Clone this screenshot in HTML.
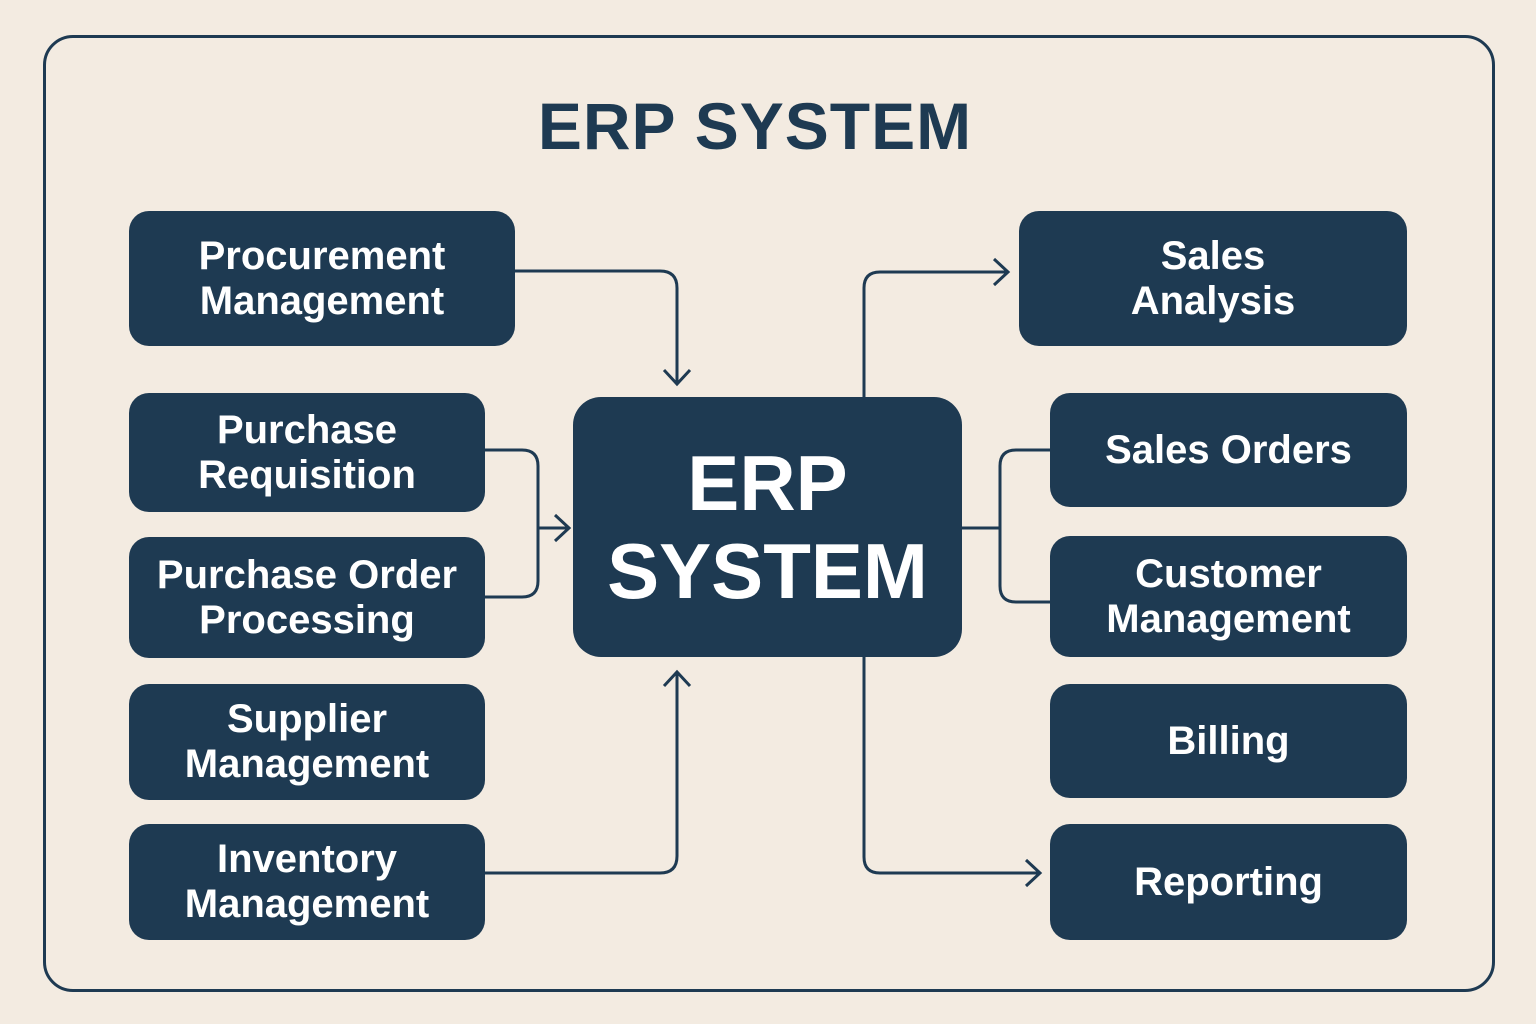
<!DOCTYPE html>
<html><head><meta charset="utf-8"><style>
body{margin:0;width:1536px;height:1024px;background:#f3ebe1;position:relative;overflow:hidden;font-family:"Liberation Sans",sans-serif}
.frame{position:absolute;left:43px;top:35px;width:1446px;height:951px;border:3px solid #1e3a52;border-radius:30px}
.t{position:absolute;left:0;width:1510px;top:88px;text-align:center;font-size:66px;font-weight:bold;color:#1e3a52;letter-spacing:1px}
.b{position:absolute;background:#1e3a52;border-radius:20px;color:#fff;display:flex;align-items:center;justify-content:center;text-align:center;font-size:40px;font-weight:bold;line-height:45px}
.c{font-size:78px;line-height:88px;border-radius:28px}
svg{position:absolute;left:0;top:0}
</style></head><body>
<div class="frame"></div>
<div class="t">ERP SYSTEM</div>
<svg width="1536" height="1024" fill="none" stroke="#1e3a52" stroke-width="3">
<path d="M515 271H660Q677 271 677 288V383"/><path d="M664 370L677 384L690 370"/>
<path d="M485 450H522Q538 450 538 466V581Q538 597 522 597H485"/><path d="M538 528H568"/><path d="M555 515L569 528L555 541"/>
<path d="M485 873H660Q677 873 677 856V672"/><path d="M664 686L677 672L690 686"/>
<path d="M864 397V288Q864 272 880 272H1008"/><path d="M994 259L1008 272L994 285"/>
<path d="M962 528H1000"/><path d="M1050 450H1016Q1000 450 1000 466V586Q1000 602 1016 602H1050"/>
<path d="M864 657V857Q864 873 880 873H1040"/><path d="M1026 860L1040 873L1026 886"/>
</svg>
<div class="b" style="left:129px;top:211px;width:386px;height:135px">Procurement<br>Management</div>
<div class="b" style="left:129px;top:393px;width:356px;height:119px">Purchase<br>Requisition</div>
<div class="b" style="left:129px;top:537px;width:356px;height:121px">Purchase Order<br>Processing</div>
<div class="b" style="left:129px;top:684px;width:356px;height:116px">Supplier<br>Management</div>
<div class="b" style="left:129px;top:824px;width:356px;height:116px">Inventory<br>Management</div>
<div class="b c" style="left:573px;top:397px;width:389px;height:260px">ERP<br>SYSTEM</div>
<div class="b" style="left:1019px;top:211px;width:388px;height:135px">Sales<br>Analysis</div>
<div class="b" style="left:1050px;top:393px;width:357px;height:114px">Sales Orders</div>
<div class="b" style="left:1050px;top:536px;width:357px;height:121px">Customer<br>Management</div>
<div class="b" style="left:1050px;top:684px;width:357px;height:114px">Billing</div>
<div class="b" style="left:1050px;top:824px;width:357px;height:116px">Reporting</div>
</body></html>
